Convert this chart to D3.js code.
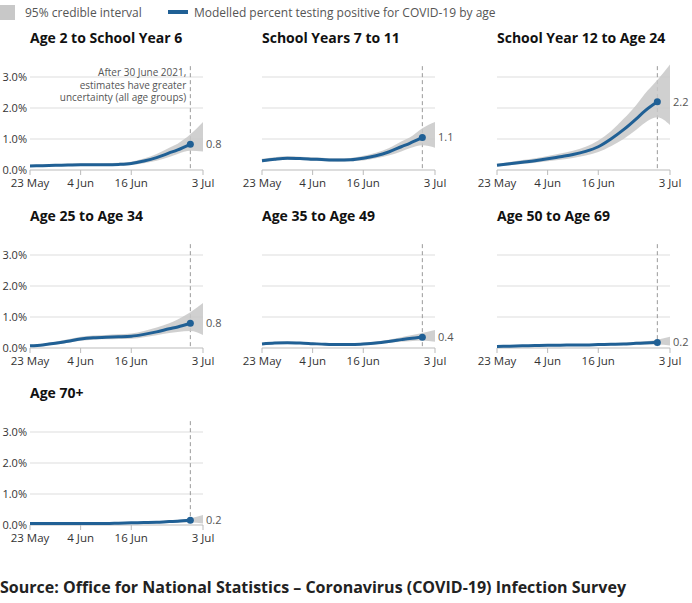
<!DOCTYPE html><html><head><meta charset="utf-8">
<script src="https://cdn.jsdelivr.net/npm/d3@7"></script>
<style>body{margin:0;background:#fff;font-family:"Open Sans",sans-serif}</style></head><body>
<svg id="c" width="692" height="603"></svg>
<script>
const panelTitles=["Age 2 to School Year 6","School Years 7 to 11","School Year 12 to Age 24","Age 25 to Age 34","Age 35 to Age 49","Age 50 to Age 69","Age 70+"];
const days=[0,3,6,9,12,15,18,21,24,27,30,33,35,38,41];
const lineVals=[
 [0.13,0.14,0.15,0.16,0.17,0.17,0.17,0.18,0.21,0.29,0.40,0.55,0.65,0.83,null],
 [0.30,0.35,0.38,0.37,0.35,0.33,0.32,0.33,0.38,0.46,0.58,0.75,0.86,1.05,null],
 [0.15,0.2,0.25,0.3,0.36,0.43,0.5,0.6,0.75,1.0,1.3,1.65,1.9,2.2,null],
 [0.07,0.1,0.15,0.22,0.29,0.33,0.35,0.36,0.38,0.44,0.52,0.62,0.68,0.80,null],
 [0.13,0.16,0.17,0.16,0.14,0.12,0.11,0.11,0.13,0.16,0.21,0.27,0.31,0.35,null],
 [0.05,0.06,0.07,0.08,0.09,0.09,0.10,0.10,0.11,0.12,0.13,0.15,0.16,0.18,null],
 [0.05,0.05,0.05,0.05,0.05,0.05,0.05,0.06,0.07,0.08,0.09,0.11,0.12,0.15,null]];
const lowVals=[
 [0.10,0.11,0.12,0.13,0.13,0.13,0.13,0.14,0.16,0.22,0.30,0.42,0.52,0.62,0.60],
 [0.25,0.30,0.33,0.32,0.30,0.28,0.27,0.28,0.31,0.38,0.47,0.60,0.70,0.80,0.72],
 [0.11,0.15,0.19,0.23,0.28,0.33,0.39,0.47,0.58,0.77,1.00,1.30,1.52,1.70,1.45],
 [0.04,0.07,0.11,0.17,0.23,0.27,0.28,0.29,0.30,0.35,0.41,0.48,0.52,0.55,0.42],
 [0.10,0.13,0.14,0.13,0.11,0.09,0.08,0.08,0.10,0.12,0.16,0.20,0.22,0.24,0.20],
 [0.03,0.04,0.05,0.06,0.07,0.07,0.08,0.08,0.08,0.09,0.10,0.11,0.11,0.11,0.08],
 [0.03,0.03,0.03,0.03,0.03,0.03,0.03,0.04,0.05,0.06,0.06,0.07,0.08,0.08,0.05]];
const highVals=[
 [0.17,0.18,0.19,0.20,0.21,0.21,0.22,0.23,0.27,0.37,0.52,0.72,0.85,1.15,1.55],
 [0.36,0.41,0.44,0.43,0.41,0.39,0.38,0.39,0.46,0.56,0.70,0.92,1.05,1.35,1.55],
 [0.20,0.26,0.32,0.38,0.45,0.53,0.62,0.75,0.95,1.25,1.65,2.10,2.45,2.90,3.40],
 [0.10,0.14,0.20,0.28,0.36,0.40,0.42,0.44,0.47,0.55,0.66,0.80,0.92,1.15,1.45],
 [0.16,0.19,0.20,0.19,0.17,0.15,0.14,0.14,0.17,0.21,0.27,0.35,0.40,0.48,0.58],
 [0.07,0.08,0.09,0.10,0.11,0.11,0.12,0.12,0.14,0.15,0.17,0.20,0.22,0.27,0.36],
 [0.07,0.07,0.07,0.07,0.07,0.07,0.07,0.08,0.09,0.10,0.12,0.15,0.17,0.22,0.32]];
const endLabels=["0.8","1.1","2.2","0.8","0.4","0.2","0.2"];
const xTickDays=[0,12,24,41], xTickLabels=["23 May","4 Jun","16 Jun","3 Jul"];
const yTicks=[0,1,2,3];
const svg=d3.select("#c");
svg.append("rect").attr("x",0).attr("y",5).attr("width",15).attr("height",15).attr("fill","#c8c8c8");
svg.append("text").attr("x",25).attr("y",17).attr("font-size",12).attr("fill","#555").text("95% credible interval");
svg.append("line").attr("x1",168).attr("x2",188).attr("y1",12).attr("y2",12).attr("stroke","#206095").attr("stroke-width",4);
svg.append("text").attr("x",194).attr("y",17).attr("font-size",12).attr("fill","#555").text("Modelled percent testing positive for COVID-19 by age");
const colX=[30,262,497], rowY=[170,348,525], W=173;
panelTitles.forEach((t,i)=>{
 const c=i%3,r=Math.floor(i/3);
 const x=d3.scaleLinear().domain([0,41]).range([colX[c],colX[c]+W]);
 const y=d3.scaleLinear().domain([0,3]).range([rowY[r],rowY[r]-93]);
 const g=svg.append("g");
 g.append("text").attr("x",colX[c]).attr("y",rowY[r]-127).attr("font-size",14).attr("font-weight","bold").attr("fill","#111").text(t);
 yTicks.forEach(v=>{
  g.append("line").attr("x1",x(0)).attr("x2",x(41)).attr("y1",y(v)).attr("y2",y(v)).attr("stroke",v===0?"#bbb":"#ddd");
  if(c===0)g.append("text").attr("x",27).attr("y",y(v)+4).attr("text-anchor","end").attr("font-size",11).attr("fill","#333").text(v.toFixed(1)+"%");
 });
 xTickDays.forEach((d,k)=>{
  g.append("line").attr("x1",x(d)).attr("x2",x(d)).attr("y1",y(0)).attr("y2",y(0)+5).attr("stroke","#bbb");
  g.append("text").attr("x",x(d)).attr("y",y(0)+17).attr("text-anchor","middle").attr("font-size",11.5).attr("fill","#333").text(xTickLabels[k]);
 });
 g.append("line").attr("x1",x(38)).attr("x2",x(38)).attr("y1",y(3.35)).attr("y2",y(0)).attr("stroke","#999").attr("stroke-dasharray","4,3");
 const band=days.map((d,k)=>({d,lo:lowVals[i][k],hi:highVals[i][k]}));
 g.append("path").datum(band).attr("fill","#c8c8c8").attr("opacity",0.85)
  .attr("d",d3.area().x(p=>x(p.d)).y0(p=>y(p.lo)).y1(p=>y(p.hi)).curve(d3.curveMonotoneX));
 const ln=days.map((d,k)=>({d,v:lineVals[i][k]})).filter(p=>p.v!==null);
 g.append("path").datum(ln).attr("fill","none").attr("stroke","#206095").attr("stroke-width",3)
  .attr("d",d3.line().x(p=>x(p.d)).y(p=>y(p.v)).curve(d3.curveMonotoneX));
 const last=ln[ln.length-1];
 g.append("circle").attr("cx",x(last.d)).attr("cy",y(last.v)).attr("r",3.5).attr("fill","#206095");
 g.append("text").attr("x",x(41)+3).attr("y",y(last.v)+4).attr("font-size",11).attr("fill","#555").text(endLabels[i]);
 if(i===0){
  ["After 30 June 2021,","estimates have greater","uncertainty (all age groups)"].forEach((s,k)=>
   g.append("text").attr("x",x(38)-4).attr("y",76+k*12.5).attr("text-anchor","end").attr("font-size",10).attr("fill","#555").text(s));
 }
});
svg.append("text").attr("x",0).attr("y",593).attr("font-size",16).attr("font-weight","bold").attr("fill","#222").text("Source: Office for National Statistics – Coronavirus (COVID-19) Infection Survey");
</script></body></html>
